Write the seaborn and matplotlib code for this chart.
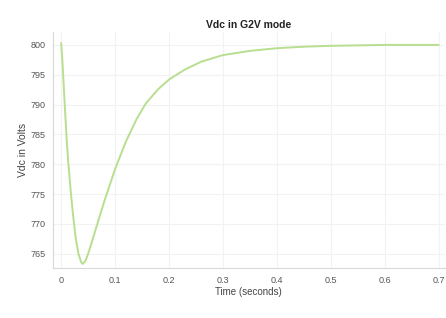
import numpy as np
import pandas as pd
import matplotlib
matplotlib.use("Agg")
import matplotlib.pyplot as plt
import seaborn as sns

# values
time_s = [0.0, 0.0025, 0.006, 0.01, 0.013, 0.018, 0.022, 0.027, 0.032, 0.037,
          0.04, 0.045, 0.05, 0.057, 0.065, 0.08, 0.1, 0.12, 0.14, 0.157, 0.18, 0.2,
          0.23, 0.26, 0.3, 0.35, 0.4, 0.45, 0.5, 0.6, 0.7]
vdc = [800.3, 797.0, 791.0, 784.5, 780.5, 775.2, 771.5, 767.6, 765.0, 763.6,
       763.3, 763.8, 765.0, 767.0, 769.4, 773.8, 779.2, 783.8, 787.6, 790.2, 792.6, 794.2,
       795.9, 797.2, 798.3, 799.0, 799.45, 799.7, 799.85, 800.0, 800.0]
xticks = [0, 0.1, 0.2, 0.3, 0.4, 0.5, 0.6, 0.7]
xticklabels = ["0", "0.1", "0.2", "0.3", "0.4", "0.5", "0.6", "0.7"]
yticks = [765, 770, 775, 780, 785, 790, 795, 800]

df = pd.DataFrame({"t": time_s, "v": vdc})

sns.set_style("whitegrid", {"grid.color": "#f2f2f2", "axes.edgecolor": "#d0d0d0"})
plt.rcParams['font.family'] = ['Liberation Sans', 'DejaVu Sans']

fig = plt.figure(figsize=(4.46, 3.18), dpi=100)
ax = fig.add_axes([0.119, 0.157, 0.878, 0.743])
sns.lineplot(data=df, x="t", y="v", ax=ax, color="#b8de90", linewidth=1.4)

ax.set_xlim(-0.015, 0.711)
ax.set_ylim(762.6, 802.2)
ax.set_xticks(xticks)
ax.set_xticklabels(xticklabels)
ax.set_yticks(yticks)
ax.tick_params(labelsize=6.5, colors="#555555", length=2, color="#cccccc")
ax.set_xlabel("Time (seconds)", fontsize=7, color="#444444", labelpad=2)
ax.set_ylabel("Vdc in Volts", fontsize=7.5, color="#444444", labelpad=2)
ax.set_title("Vdc in G2V mode", fontsize=7.5, fontweight="bold", color="#222222", pad=3)
for s in ["top", "right"]:
    ax.spines[s].set_visible(False)
for s in ["left", "bottom"]:
    ax.spines[s].set_color("#d8d8d8")

fig.savefig("out.png", dpi=100)
